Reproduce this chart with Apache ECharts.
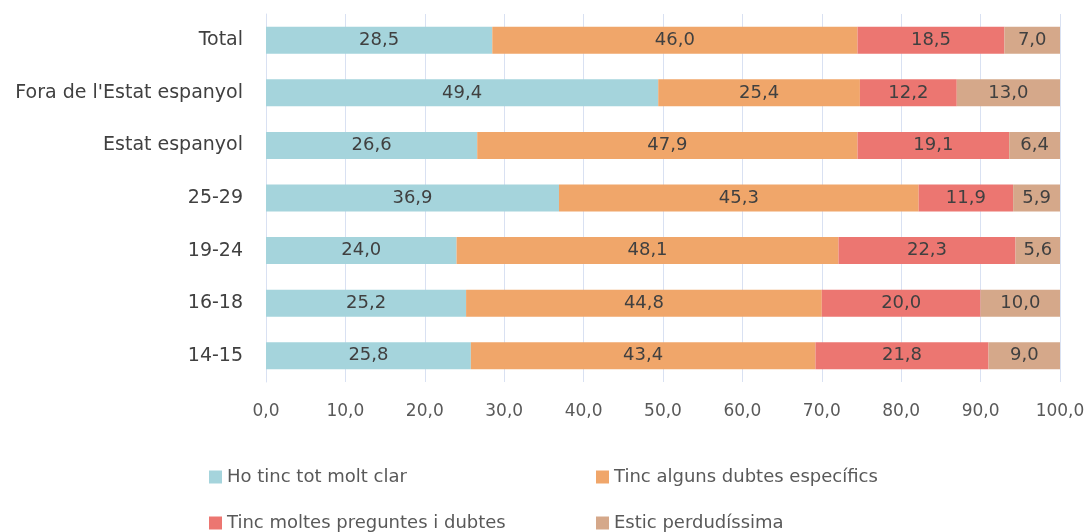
<!DOCTYPE html>
<html>
<head>
<meta charset="utf-8">
<script src="https://cdn.jsdelivr.net/npm/echarts@6/dist/echarts.min.js"></script>
<style>
  html, body { margin: 0; padding: 0; background: #fff; }
  #chart { width: 1089px; height: 532px; }
</style>
</head>
<body>
<div id="chart"></div>
<script>
var categories = ['Total', "Fora de l'Estat espanyol", 'Estat espanyol', '25-29', '19-24', '16-18', '14-15'];
var seriesNames = ['Ho tinc tot molt clar', 'Tinc alguns dubtes específics', 'Tinc moltes preguntes i dubtes', 'Estic perdudíssima'];
var clar = [28.5, 49.4, 26.6, 36.9, 24.0, 25.2, 25.8];
var alguns = [46.0, 25.4, 47.9, 45.3, 48.1, 44.8, 43.4];
var moltes = [18.5, 12.2, 19.1, 11.9, 22.3, 20.0, 21.8];
var perdudissima = [7.0, 13.0, 6.4, 5.9, 5.6, 10.0, 9.0];
var colors = ['#A5D4DC', '#F0A66A', '#EC7671', '#D5A88A'];

var font = '"DejaVu Sans", sans-serif';
var fmt = function (v) { return v.toFixed(1).replace('.', ','); };

var chart = echarts.init(document.getElementById('chart'));
window.addEventListener('resize', function () {
    chart.resize();
});

var values = [clar, alguns, moltes, perdudissima];
var series = values.map(function (arr, i) {
    return {
        name: seriesNames[i],
        type: 'bar',
        stack: 'total',
        barWidth: 27,
        data: arr,
        itemStyle: { color: colors[i] },
        label: {
            show: true,
            position: 'inside',
            color: '#404040',
            fontFamily: font,
            fontSize: 18,
            formatter: function (p) { return fmt(p.value); }
        }
    };
});

// one legend per item so the 2x2 layout matches
var legendPos = [[204, 463], [591, 463], [204, 509], [591, 509]];
var legends = seriesNames.map(function (name, i) {
    return {
        data: [name],
        left: legendPos[i][0],
        top: legendPos[i][1],
        icon: 'rect',
        itemWidth: 13,
        itemHeight: 13,
        itemGap: 0,
        textStyle: { color: '#595959', fontFamily: font, fontSize: 18 }
    };
});

var option = {
    animation: false,
    grid: { left: 266, right: 29, top: 14, bottom: 150 },
    legend: legends,
    xAxis: {
        type: 'value',
        min: 0,
        max: 100,
        interval: 10,
        axisLine: { show: false },
        axisTick: { show: false },
        axisLabel: {
            margin: 21,
            color: '#595959',
            fontFamily: font,
            fontSize: 17,
            formatter: function (v) { return fmt(v); }
        },
        splitLine: { show: true, lineStyle: { color: '#D9E1F2', width: 1 } }
    },
    yAxis: {
        type: 'category',
        inverse: true,
        data: categories,
        axisLine: { show: true, lineStyle: { color: '#D9E1F2' } },
        axisTick: { show: false },
        axisLabel: {
            margin: 23,
            color: '#404040',
            fontFamily: font,
            fontSize: 19
        }
    },
    series: series
};

chart.setOption(option);
</script>
</body>
</html>
